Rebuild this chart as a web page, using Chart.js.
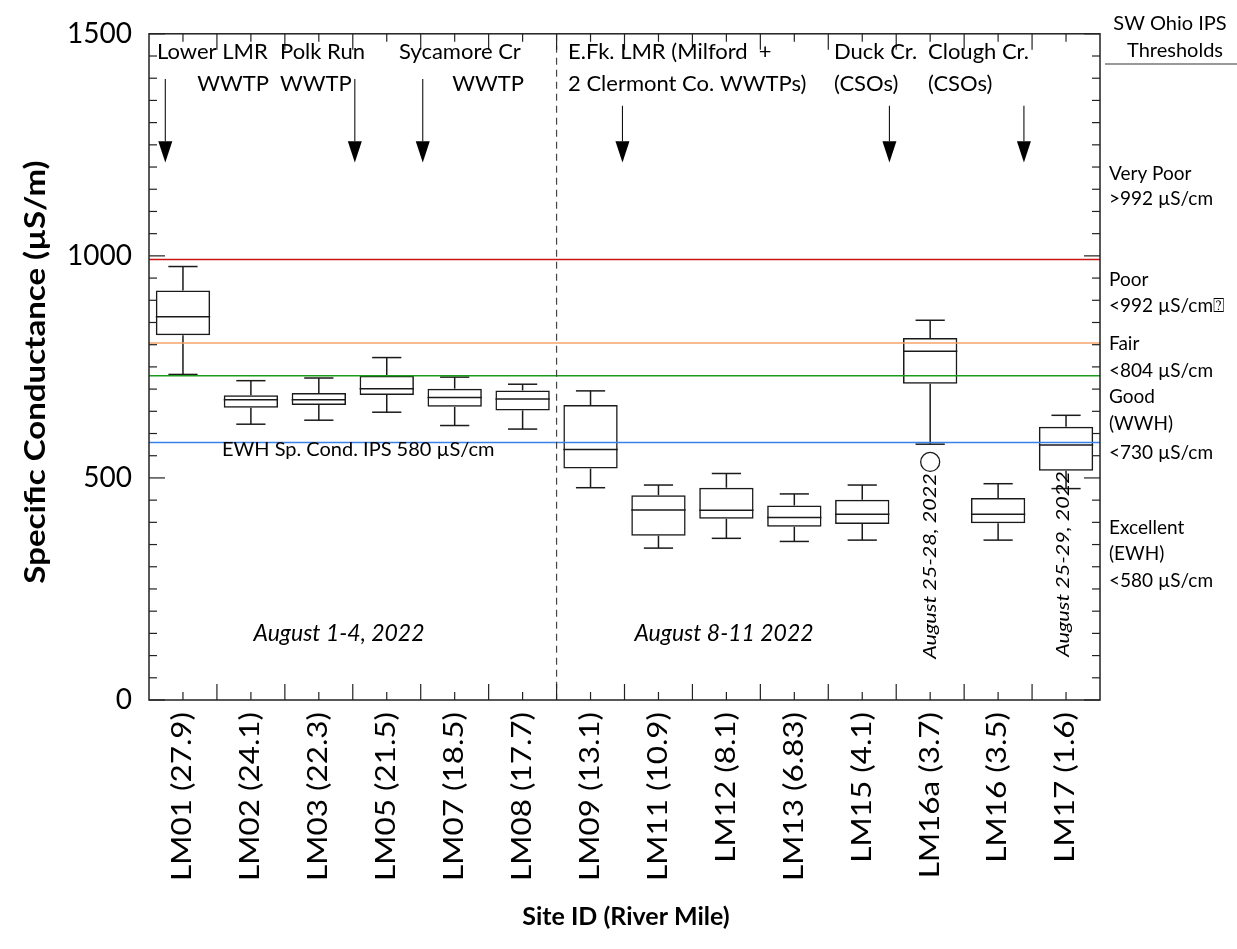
<!DOCTYPE html>
<html>
<head>
<meta charset="utf-8">
<script src="https://cdn.jsdelivr.net/npm/chart.js@4.4.0/dist/chart.umd.min.js"></script>
<style>
  html, body { margin: 0; padding: 0; background: #fff; }
  #wrap { width: 1237px; height: 949px; }
</style>
</head>
<body>
<div id="wrap"><canvas id="c" width="1237" height="949"></canvas></div>
<script>
// Sites along the Little Miami River, upstream to downstream
const sites = ['LM01 (27.9)', 'LM02 (24.1)', 'LM03 (22.3)', 'LM05 (21.5)', 'LM07 (18.5)',
  'LM08 (17.7)', 'LM09 (13.1)', 'LM11 (10.9)', 'LM12 (8.1)', 'LM13 (6.83)', 'LM15 (4.1)',
  'LM16a (3.7)', 'LM16 (3.5)', 'LM17 (1.6)'];

// Box-plot summaries of specific conductance (µS/cm)
const whiskerLow  = [733, 621, 630, 648, 618, 610, 478, 342, 364, 357, 360, 576, 360, 476];
const quartile1   = [821, 658, 664, 687, 660, 652, 521, 370, 408, 390, 396, 712, 398, 516];
const median      = [863, 676, 676, 701, 681, 678, 564, 428, 427, 411, 418, 785, 418, 574];
const quartile3   = [922, 686, 691, 730, 701, 697, 664, 461, 478, 438, 451, 815, 455, 615];
const whiskerHigh = [976, 719, 725, 771, 727, 711, 696, 484, 510, 464, 484, 855, 487, 641];
const outliers    = [null, null, null, null, null, null, null, null, null, null, null, 536, null, null];

// SW Ohio IPS thresholds
const thresholdValues = [992, 804, 730, 580];
const thresholdColors = ['#cc1414', '#f5a46a', '#1c9a1c', '#3b82e6'];

const yTicks = [0, 500, 1000, 1500];

// Inflow sources marked with arrows (position in category units, start value)
const sourceArrows = [
  { at: -0.26, from: 1398 },
  { at: 2.53, from: 1398 },
  { at: 3.53, from: 1398 },
  { at: 6.47, from: 1338 },
  { at: 10.40, from: 1338 },
  { at: 12.38, from: 1338 }
];
const arrowHeadTop = 1258;
const arrowTip = 1210;

const FONT = 'Lato, "Open Sans", sans-serif';

function text(ctx, str, x, y, o) {
  ctx.save();
  ctx.translate(x, y);
  if (o.rotate) ctx.rotate(o.rotate);
  if (o.stretch) ctx.scale(o.stretch, 1);
  ctx.font = o.font;
  ctx.fillStyle = o.color || '#000';
  ctx.textAlign = o.align || 'left';
  ctx.textBaseline = o.baseline || 'middle';
  ctx.fillText(str, 0, 0);
  ctx.restore();
}

function seg(ctx, x1, y1, x2, y2) {
  ctx.beginPath();
  ctx.moveTo(x1, y1);
  ctx.lineTo(x2, y2);
  ctx.stroke();
}

const overlay = {
  id: 'overlay',
  afterDatasetsDraw(chart) {
    const ctx = chart.ctx;
    const xa = chart.scales.x, ya = chart.scales.y;
    const { left, right, top, bottom } = chart.chartArea;
    const step = xa.getPixelForValue(1) - xa.getPixelForValue(0);

    // whiskers, caps and medians
    ctx.save();
    ctx.strokeStyle = '#1a1a1a';
    ctx.lineWidth = 1.5;
    sites.forEach((s, i) => {
      const cx = xa.getPixelForValue(i);
      const capHalf = step * 0.215;
      const boxHalf = step * 0.4;
      seg(ctx, cx, ya.getPixelForValue(quartile3[i]), cx, ya.getPixelForValue(whiskerHigh[i]));
      seg(ctx, cx, ya.getPixelForValue(quartile1[i]), cx, ya.getPixelForValue(whiskerLow[i]));
      const yh = ya.getPixelForValue(whiskerHigh[i]);
      const yl = ya.getPixelForValue(whiskerLow[i]);
      seg(ctx, cx - capHalf, yh, cx + capHalf, yh);
      seg(ctx, cx - capHalf, yl, cx + capHalf, yl);
      const ym = ya.getPixelForValue(median[i]);
      seg(ctx, cx - boxHalf, ym, cx + boxHalf, ym);
    });
    ctx.restore();

    // threshold lines
    ctx.save();
    ctx.lineWidth = 1.5;
    thresholdValues.forEach((v, i) => {
      ctx.strokeStyle = thresholdColors[i];
      const y = ya.getPixelForValue(v);
      seg(ctx, left, y, right, y);
    });
    ctx.restore();

    // sampling-period divider
    ctx.save();
    ctx.strokeStyle = '#444';
    ctx.lineWidth = 1.2;
    ctx.setLineDash([7, 5]);
    const dx = xa.getPixelForValue(5.5);
    seg(ctx, dx, top, dx, bottom);
    ctx.restore();
  },
  afterDraw(chart) {
    const ctx = chart.ctx;
    const xa = chart.scales.x, ya = chart.scales.y;
    const { left, right, top, bottom } = chart.chartArea;
    const step = xa.getPixelForValue(1) - xa.getPixelForValue(0);

    // frame and inward ticks
    ctx.save();
    ctx.strokeStyle = '#222';
    ctx.lineWidth = 1.5;
    ctx.strokeRect(left, top, right - left, bottom - top);
    ctx.lineWidth = 1.2;
    for (let v = 0; v <= 1500; v += 50) {
      const y = ya.getPixelForValue(v);
      const len = v % 500 === 0 ? 16 : 8;
      seg(ctx, left, y, left + len, y);
      seg(ctx, right, y, right - len, y);
    }
    sites.forEach((s, i) => {
      const cx = xa.getPixelForValue(i);
      seg(ctx, cx, bottom, cx, bottom - 8);
      seg(ctx, cx, top, cx, top + 8);
      if (i < sites.length - 1) {
        const bx = cx + step / 2;
        seg(ctx, bx, bottom, bx, bottom - 16);
        seg(ctx, bx, top, bx, top + 16);
      }
    });
    ctx.restore();

    // site labels, vertical
    sites.forEach((s, i) => {
      text(ctx, s, xa.getPixelForValue(i), bottom + 12, {
        font: '400 26px ' + FONT, rotate: -Math.PI / 2, stretch: 1.21, align: 'right'
      });
    });

    // axis titles
    text(ctx, 'Specific Conductance (\u00b5S/m)', 36, 372, {
      font: '700 28px ' + FONT, rotate: -Math.PI / 2, stretch: 1.18, align: 'center'
    });
    text(ctx, 'Site ID (River Mile)', 626, 917, { font: '700 25px ' + FONT, align: 'center' });

    // source arrows
    ctx.save();
    ctx.strokeStyle = '#111';
    ctx.fillStyle = '#000';
    ctx.lineWidth = 1.1;
    sourceArrows.forEach(a => {
      const x = xa.getPixelForValue(a.at);
      const y0 = ya.getPixelForValue(a.from);
      const yh = ya.getPixelForValue(arrowHeadTop);
      const yt = ya.getPixelForValue(arrowTip);
      seg(ctx, x, y0, x, yh);
      ctx.beginPath();
      ctx.moveTo(x - 7, yh);
      ctx.lineTo(x + 7, yh);
      ctx.lineTo(x, yt);
      ctx.closePath();
      ctx.fill();
    });
    ctx.restore();

    // source names
    const af = '400 22px ' + FONT;
    text(ctx, 'Lower LMR', 157, 52, { font: af });
    text(ctx, 'WWTP', 269, 84, { font: af, align: 'right' });
    text(ctx, 'Polk Run', 280, 52, { font: af });
    text(ctx, 'WWTP', 280, 84, { font: af });
    text(ctx, 'Sycamore Cr', 399, 52, { font: af });
    text(ctx, 'WWTP', 524, 84, { font: af, align: 'right' });
    text(ctx, 'E.Fk. LMR (Milford  +', 568, 52, { font: af });
    text(ctx, '2 Clermont Co. WWTPs)', 568, 84, { font: af });
    text(ctx, 'Duck Cr.', 834, 52, { font: af });
    text(ctx, '(CSOs)', 834, 84, { font: af });
    text(ctx, 'Clough Cr.', 928, 52, { font: af });
    text(ctx, '(CSOs)', 928, 84, { font: af });

    // sampling dates
    const df = 'italic 400 23px ' + FONT;
    text(ctx, 'August 1-4, 2022', 339, 634, { font: df, align: 'center' });
    text(ctx, 'August 8-11 2022', 724, 634, { font: df, align: 'center' });
    const rf = 'italic 400 18px ' + FONT;
    text(ctx, 'August 25-28, 2022', 930, 566, { font: rf, align: 'center', rotate: -Math.PI / 2, stretch: 1.2 });
    text(ctx, 'August 25-29, 2022', 1063, 564, { font: rf, align: 'center', rotate: -Math.PI / 2, stretch: 1.2 });

    // EWH criterion note
    text(ctx, 'EWH Sp. Cond. IPS 580 \u00b5S/cm', 222, 450, { font: '400 20px ' + FONT });

    // threshold legend on the right
    const hf = '400 20px ' + FONT;
    text(ctx, 'SW Ohio IPS', 1170, 24, { font: hf, align: 'center' });
    text(ctx, 'Thresholds', 1175, 51, { font: hf, align: 'center' });
    ctx.save();
    ctx.strokeStyle = '#777';
    ctx.lineWidth = 1.5;
    seg(ctx, 1105, 64, 1237, 64);
    ctx.restore();
    const lf = '400 19px ' + FONT;
    const legendRows = [
      ['Very Poor', 174], ['>992 \u00b5S/cm', 199],
      ['Poor', 280], ['<992 \u00b5S/cm\u2370', 306],
      ['Fair', 344], ['<804 \u00b5S/cm', 371],
      ['Good', 397], ['(WWH)', 424], ['<730 \u00b5S/cm', 453],
      ['Excellent', 528], ['(EWH)', 554], ['<580 \u00b5S/cm', 581]
    ];
    legendRows.forEach(([t, y]) => text(ctx, t, 1109, y, { font: lf }));
  }
};

function build() {
  new Chart(document.getElementById('c'), {
    data: {
      labels: sites,
      datasets: [
        {
          type: 'bar',
          data: sites.map((s, i) => [quartile1[i], quartile3[i]]),
          backgroundColor: 'rgba(255,255,255,0)',
          borderColor: '#1a1a1a',
          borderWidth: 1.5,
          borderSkipped: false,
          barPercentage: 0.8,
          categoryPercentage: 1.0,
          xAxisID: 'x', yAxisID: 'y'
        },
        {
          type: 'line',
          data: outliers,
          showLine: false,
          pointRadius: 9.5,
          pointBackgroundColor: 'rgba(255,255,255,0)',
          pointBorderColor: '#1a1a1a',
          pointBorderWidth: 1.3,
          xAxisID: 'x', yAxisID: 'y'
        }
      ]
    },
    options: {
      responsive: false,
      animation: false,
      devicePixelRatio: 1,
      layout: { padding: 0 },
      plugins: { legend: { display: false }, tooltip: { enabled: false } },
      scales: {
        x: {
          type: 'category', position: 'bottom', offset: true,
          grid: { display: false, drawTicks: false }, border: { display: false },
          ticks: { display: false },
          afterFit: s => { s.height = 249; }
        },
        xTop: {
          type: 'category', position: 'top', offset: true, labels: sites,
          grid: { display: false, drawTicks: false }, border: { display: false },
          ticks: { display: false },
          afterFit: s => { s.height = 24; }
        },
        y: {
          type: 'linear', position: 'left', min: 0, max: 1500,
          afterBuildTicks: s => { s.ticks = yTicks.map(v => ({ value: v })); },
          grid: { display: false, drawTicks: false }, border: { display: false },
          ticks: {
            color: '#000', padding: 17, font: { family: FONT, size: 28 },
            callback: v => String(v)
          },
          afterFit: s => { s.width = 149; }
        },
        yRight: {
          type: 'linear', position: 'right', min: 0, max: 1500,
          grid: { display: false, drawTicks: false }, border: { display: false },
          ticks: { display: false },
          afterFit: s => { s.width = 137; }
        }
      }
    },
    plugins: [overlay]
  });
}

Promise.all(['400 20px Lato', '700 20px Lato', 'italic 400 20px Lato']
  .map(f => document.fonts.load(f).catch(() => null))).then(build, build);
</script>
</body>
</html>
